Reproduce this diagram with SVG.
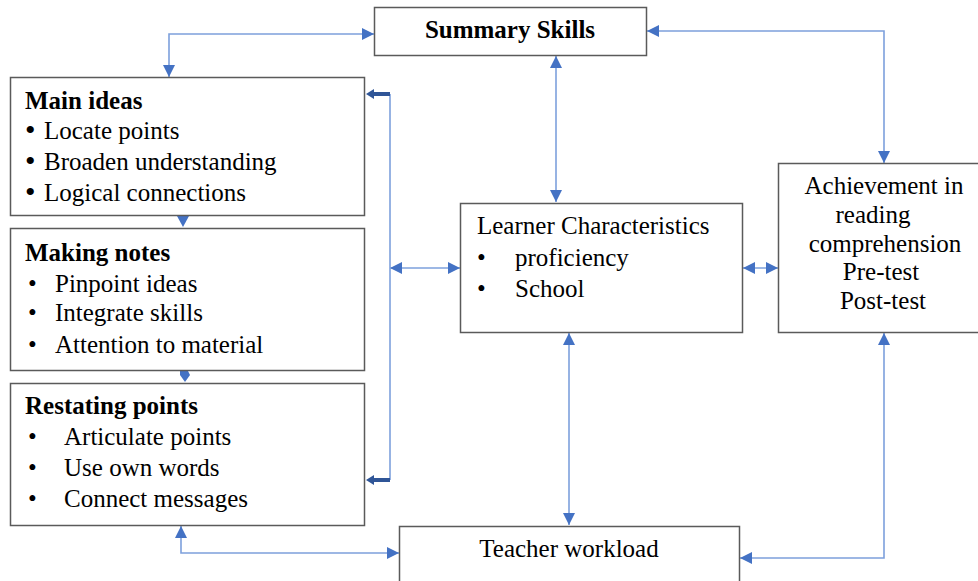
<svg xmlns="http://www.w3.org/2000/svg" width="978" height="581" viewBox="0 0 978 581">
<defs>
<marker id="ahs" viewBox="0 0 10 10" refX="10" refY="5" markerWidth="12" markerHeight="12" markerUnits="userSpaceOnUse" orient="auto-start-reverse">
<path d="M0,0 L10,5 L0,10 Z" fill="#4472C4"/>
</marker>
</defs>
<style>
.box{fill:#fff;stroke:#5a5a5a;stroke-width:1.5}
.t{font-family:'Liberation Serif','Times New Roman','DejaVu Serif',serif;font-size:25px;fill:#000}
.b{font-weight:bold}
.c{text-anchor:middle}
.ln{fill:none;stroke:#7DA0DC;stroke-width:1.6}
.blk{fill:#2F5597}
</style>
<rect width="978" height="581" fill="#fff"/>
<g id="connectors">
<polyline class="ln" points="374,34 169,34 169,77" marker-start="url(#ahs)" marker-end="url(#ahs)"/>
<polyline class="ln" points="647,31 884,31 884,163" marker-start="url(#ahs)" marker-end="url(#ahs)"/>
<line class="ln" x1="556" y1="56" x2="556" y2="202" marker-start="url(#ahs)" marker-end="url(#ahs)"/>
<line class="ln" x1="569" y1="333" x2="569" y2="525" marker-start="url(#ahs)" marker-end="url(#ahs)"/>
<polyline class="ln" points="884,333 884,558 740,558" marker-start="url(#ahs)" marker-end="url(#ahs)"/>
<polyline class="ln" points="181,526 181,553 399,553" marker-start="url(#ahs)" marker-end="url(#ahs)"/>
<line class="ln" x1="390" y1="268" x2="460" y2="268" marker-start="url(#ahs)" marker-end="url(#ahs)"/>
<line class="ln" x1="743" y1="268" x2="778" y2="268" marker-start="url(#ahs)" marker-end="url(#ahs)"/>
<polyline class="ln" points="390,94 390,480"/>
<path class="blk" d="M390,92 L374,92 L374,89 L366,94 L374,99 L374,96 L390,96 Z"/>
<path class="blk" d="M390,478 L374,478 L374,475 L366,480 L374,485 L374,482 L390,482 Z"/>
<path d="M177,216 L189,216 L183,227 Z" fill="#4472C4"/>
<path d="M180,371 L188,371 L190,375 L185,382 L180,375 Z" fill="#4472C4"/>
</g>
<g id="summary">
<rect class="box" x="374.5" y="7.5" width="272" height="48"/>
<text class="t b c" x="510" y="38">Summary Skills</text>
</g>
<g id="main-ideas">
<rect class="box" x="10.5" y="77.5" width="354" height="138"/>
<text class="t b" x="25" y="109">Main ideas</text>
<text class="t" x="25" y="140" style="font-size:30px">•</text><text class="t" x="44" y="139">Locate points</text>
<text class="t" x="25" y="171" style="font-size:30px">•</text><text class="t" x="44" y="170">Broaden understanding</text>
<text class="t" x="25" y="202" style="font-size:30px">•</text><text class="t" x="44" y="201">Logical connections</text>
</g>
<g id="making-notes">
<rect class="box" x="10.5" y="228.5" width="354" height="142"/>
<text class="t b" x="25" y="261">Making notes</text>
<text class="t" x="28" y="292">•</text><text class="t" x="55" y="292">Pinpoint ideas</text>
<text class="t" x="28" y="321">•</text><text class="t" x="55" y="321">Integrate skills</text>
<text class="t" x="28" y="353">•</text><text class="t" x="55" y="353">Attention to material</text>
</g>
<g id="restating-points">
<rect class="box" x="10.5" y="383.5" width="354" height="142"/>
<text class="t b" x="25" y="414">Restating points</text>
<text class="t" x="28" y="445">•</text><text class="t" x="64" y="445">Articulate points</text>
<text class="t" x="28" y="476">•</text><text class="t" x="64" y="476">Use own words</text>
<text class="t" x="28" y="507">•</text><text class="t" x="64" y="507">Connect messages</text>
</g>
<g id="learner">
<rect class="box" x="460.5" y="203.5" width="282" height="129"/>
<text class="t" x="477" y="234">Learner Characteristics</text>
<text class="t" x="477" y="266">•</text><text class="t" x="515" y="266">proficiency</text>
<text class="t" x="477" y="297">•</text><text class="t" x="515" y="297">School</text>
</g>
<g id="achievement">
<rect class="box" x="778.5" y="163.5" width="205" height="169"/>
<text class="t c" x="884" y="194">Achievement in</text>
<text class="t c" x="873" y="223">reading</text>
<text class="t c" x="885" y="252">comprehension</text>
<text class="t c" x="881" y="280">Pre-test</text>
<text class="t c" x="883" y="309">Post-test</text>
</g>
<g id="teacher">
<rect class="box" x="399.5" y="526.5" width="340" height="60"/>
<text class="t c" x="569" y="557">Teacher workload</text>
</g>
</svg>
